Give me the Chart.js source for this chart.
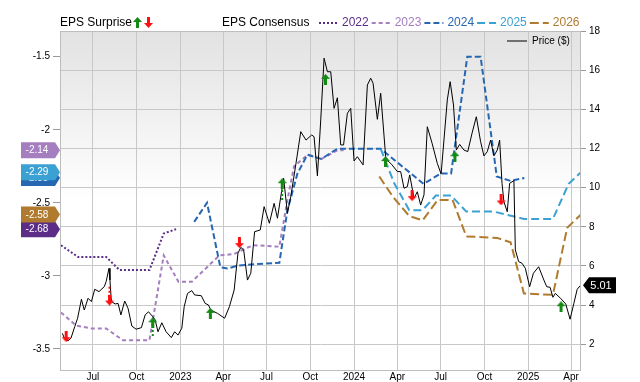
<!DOCTYPE html>
<html>
<head>
<meta charset="utf-8">
<script src="https://cdn.jsdelivr.net/npm/chart.js@4.4.0/dist/chart.umd.min.js"></script>
<style>
  html, body { margin: 0; padding: 0; background: #fff; }
  canvas { display: block; }
</style>
</head>
<body>
<canvas id="chart" width="640" height="382"></canvas>
<script>
// x range and quarter ticks
const xStart = '2022-04-23'
const xEnd = '2025-04-22'
const tickDates = ['2022-07-01', '2022-10-01', '2023-01-01', '2023-04-01', '2023-07-01', '2023-10-01',
  '2024-01-01', '2024-04-01', '2024-07-01', '2024-10-01', '2025-01-01', '2025-04-01']
const tickLabels = ['Jul', 'Oct', '2023', 'Apr', 'Jul', 'Oct', '2024', 'Apr', 'Jul', 'Oct', '2025', 'Apr']
const epsTicks = [-3.5, -3, -2.5, -2, -1.5]
const priceTicks = [2, 4, 6, 8, 10, 12, 14, 16, 18]

// weekly-ish price ($)
const priceDates = [
  '2022-04-28', '2022-05-03', '2022-05-10', '2022-05-16', '2022-05-24', '2022-05-30', '2022-06-07', '2022-06-13', '2022-06-21', '2022-06-28',
  '2022-07-05', '2022-07-14', '2022-07-25', '2022-07-29', '2022-08-04', '2022-08-06', '2022-08-09', '2022-08-17', '2022-08-23', '2022-08-29',
  '2022-09-06', '2022-09-13', '2022-09-21', '2022-09-30', '2022-10-11', '2022-10-19', '2022-10-26', '2022-11-04', '2022-11-09', '2022-11-15',
  '2022-11-23', '2022-12-02', '2022-12-13', '2022-12-20', '2022-12-27', '2023-01-04', '2023-01-09', '2023-01-16', '2023-01-25', '2023-01-31',
  '2023-02-14', '2023-02-22', '2023-03-01', '2023-03-06', '2023-03-20', '2023-04-04', '2023-04-14', '2023-04-24', '2023-05-02', '2023-05-08',
  '2023-05-14', '2023-05-22', '2023-05-29', '2023-06-06', '2023-06-18', '2023-06-26', '2023-07-07', '2023-07-17', '2023-07-24', '2023-08-06',
  '2023-08-14', '2023-08-21', '2023-09-01', '2023-09-11', '2023-09-22', '2023-10-04', '2023-10-09', '2023-10-16', '2023-10-23', '2023-10-30',
  '2023-11-06', '2023-11-13', '2023-11-20', '2023-11-27', '2023-12-04', '2023-12-10', '2023-12-18', '2023-12-25', '2024-01-01', '2024-01-08',
  '2024-01-20', '2024-01-29', '2024-02-05', '2024-02-10', '2024-02-19', '2024-02-26', '2024-03-08', '2024-03-14', '2024-03-21', '2024-04-01',
  '2024-04-08', '2024-04-15', '2024-04-22', '2024-04-27', '2024-05-06', '2024-05-13', '2024-05-20', '2024-05-27', '2024-06-03', '2024-06-13',
  '2024-06-24', '2024-07-02', '2024-07-15', '2024-07-21', '2024-07-28', '2024-08-03', '2024-08-10', '2024-08-19', '2024-08-27', '2024-09-05',
  '2024-09-14', '2024-09-23', '2024-09-30', '2024-10-07', '2024-10-14', '2024-10-21', '2024-10-28', '2024-11-02', '2024-11-07', '2024-11-11',
  '2024-11-18', '2024-11-23', '2024-12-02', '2024-12-05', '2024-12-12', '2024-12-19', '2024-12-26', '2025-01-04', '2025-01-12', '2025-01-23',
  '2025-02-03', '2025-02-09', '2025-02-16', '2025-02-22', '2025-02-27', '2025-03-10', '2025-03-21', '2025-03-30', '2025-04-07', '2025-04-14',
  '2025-04-21']
const priceValues = [
  2.56, 2.26, 2.18, 2.31, 2.90, 3.33, 4.30, 3.75, 4.35, 4.18,
  4.81, 4.69, 4.94, 5.20, 5.88, 5.28, 4.18, 4.06, 4.09, 3.50,
  4.21, 3.84, 2.93, 2.77, 2.85, 3.50, 3.66, 3.41, 3.24, 2.64,
  3.10, 2.64, 2.34, 2.64, 2.47, 2.82, 3.92, 4.60, 4.74, 4.52,
  4.48, 4.09, 4.01, 3.75, 3.58, 3.33, 3.92, 4.77, 6.65, 6.95,
  6.82, 5.28, 5.63, 7.75, 7.84, 9.03, 8.18, 9.20, 8.44, 10.48,
  8.69, 9.54, 11.24, 12.86, 12.43, 12.69, 12.60, 10.60, 13.46, 16.61,
  15.92, 15.92, 14.05, 14.59, 12.18, 12.18, 13.80, 14.05, 11.36, 11.58,
  11.16, 15.24, 15.59, 15.33, 13.49, 14.82, 11.41, 11.33, 11.16, 10.82,
  10.82, 9.97, 10.05, 10.65, 9.46, 9.79, 9.11, 9.63, 13.11, 12.27,
  11.24, 10.70, 14.48, 15.41, 14.22, 11.92, 12.21, 11.92, 11.84, 12.78,
  13.62, 12.35, 11.62, 11.84, 12.43, 11.62, 11.92, 12.43, 10.22, 9.28,
  8.77, 10.22, 10.36, 6.82, 6.22, 6.14, 5.88, 4.94, 5.63, 5.96,
  5.28, 4.94, 4.91, 4.40, 4.60, 4.35, 4.06, 3.28, 4.09, 4.81,
  5.01]

// EPS consensus per fiscal year
const eps2022Dates = ['2022-04-25', '2022-05-31', '2022-07-29', '2022-08-26', '2022-10-28', '2022-11-27', '2022-12-23']
const eps2022 = [-2.79, -2.87, -2.87, -2.96, -2.96, -2.71, -2.68]
const eps2023Dates = ['2022-04-25', '2022-05-27', '2022-06-28', '2022-07-29', '2022-09-02', '2022-10-28', '2022-11-27', '2022-12-28',
  '2023-01-25', '2023-03-24', '2023-04-24', '2023-05-19', '2023-06-05', '2023-07-28', '2023-08-14', '2023-08-28', '2023-09-26',
  '2023-10-24', '2023-11-27', '2023-12-10']
const eps2023 = [-3.25, -3.34, -3.36, -3.36, -3.44, -3.44, -2.86, -3.04, -3.04, -2.86, -2.85, -2.81, -2.79, -2.80, -2.48, -2.25,
  -2.17, -2.20, -2.14, -2.14]
const eps2024Dates = ['2023-01-30', '2023-02-26', '2023-03-26', '2023-04-10', '2023-05-01', '2023-06-05', '2023-07-28', '2023-08-14',
  '2023-09-04', '2023-09-25', '2023-10-24', '2023-11-27', '2024-02-26', '2024-05-26', '2024-07-01', '2024-07-23', '2024-08-26',
  '2024-09-23', '2024-10-27', '2024-11-25', '2024-12-24']
const eps2024 = [-2.63, -2.50, -2.94, -2.95, -2.93, -2.92, -2.91, -2.55, -2.30, -2.17, -2.20, -2.13, -2.13, -2.37, -2.30, -2.30,
  -1.50, -1.50, -2.32, -2.35, -2.33]
const eps2025Dates = ['2024-02-26', '2024-03-26', '2024-04-26', '2024-05-24', '2024-06-21', '2024-07-23', '2024-08-24', '2024-10-21',
  '2024-12-23', '2025-02-22', '2025-03-27', '2025-04-22']
const eps2025 = [-2.13, -2.37, -2.55, -2.55, -2.45, -2.45, -2.56, -2.56, -2.61, -2.61, -2.37, -2.29]
const eps2026Dates = ['2024-02-23', '2024-03-23', '2024-04-26', '2024-05-24', '2024-06-25', '2024-07-26', '2024-08-24', '2024-10-28',
  '2024-11-25', '2024-12-23', '2025-02-22', '2025-03-24', '2025-04-22']
const eps2026 = [-2.32, -2.46, -2.59, -2.62, -2.48, -2.48, -2.73, -2.74, -2.77, -3.12, -3.13, -2.67, -2.58]

// EPS surprise markers (placed on the price scale)
const surpriseDates = ['2022-05-06', '2022-08-05', '2022-11-04', '2023-03-05', '2023-05-05', '2023-08-03',
  '2023-11-02', '2024-03-07', '2024-05-02', '2024-07-31', '2024-11-05', '2025-03-11']
const surpriseLevels = [2.39, 4.26, 3.10, 3.58, 7.19, 10.2, 15.53, 11.33, 9.59, 11.58, 9.37, 3.92]
const surpriseBeat = [false, false, true, true, false, true, true, true, false, true, false, true]
// dashed stems on some of them
const stemDates = ['2022-08-05', '2022-11-04', '2023-08-03']
const stemFrom = [4.94, 2.93, 10.08]
const stemTo = [4.47, 2.37, 9.27]
const stemBeat = [false, true, true]

const FONT = '"Liberation Sans", Arial, sans-serif'
Chart.defaults.font.family = FONT

function day (s) {
  const p = s.split('-').map(Number)
  return Date.UTC(p[0], p[1] - 1, p[2]) / 864e5
}
function pts (dates, vals) {
  return dates.map((d, i) => ({x: day(d), y: vals[i]}))
}

const consensus = [
  {label: '2022', dates: eps2022Dates, values: eps2022, color: '#5c2d86', dash: [2, 2]},
  {label: '2023', dates: eps2023Dates, values: eps2023, color: '#a47ebf', dash: [4, 3]},
  {label: '2024', dates: eps2024Dates, values: eps2024, color: '#2767b2', dash: [6, 3]},
  {label: '2025', dates: eps2025Dates, values: eps2025, color: '#3ba1d3', dash: [8, 4]},
  {label: '2026', dates: eps2026Dates, values: eps2026, color: '#b07b2f', dash: [9, 4]}
]

function arrowImage (up, color) {
  const c = document.createElement('canvas')
  c.width = 9
  c.height = 11
  const g = c.getContext('2d')
  g.fillStyle = color
  g.beginPath()
  if (up) {
    g.moveTo(4.5, 0); g.lineTo(9, 5); g.lineTo(0, 5)
  } else {
    g.moveTo(4.5, 11); g.lineTo(9, 6); g.lineTo(0, 6)
  }
  g.closePath()
  g.fill()
  g.fillRect(3, up ? 5 : 0, 3, 6)
  return c
}
const GREEN = '#138a13'
const RED = '#ff1010'
const upImg = arrowImage(true, GREEN)
const downImg = arrowImage(false, RED)

let datasets = []
datasets.push({
  data: pts(surpriseDates, surpriseLevels),
  yAxisID: 'price',
  showLine: false,
  pointRadius: 4,
  pointStyle: ctx => surpriseBeat[ctx.dataIndex] ? upImg : downImg
})
stemDates.forEach(function (d, i) {
  datasets.push({
    data: [{x: day(d), y: stemFrom[i]}, {x: day(d), y: stemTo[i]}],
    yAxisID: 'price',
    borderColor: stemBeat[i] ? GREEN : RED,
    borderWidth: 2,
    borderDash: [2, 2],
    pointRadius: 0
  })
})
datasets.push({
  data: pts(priceDates, priceValues),
  yAxisID: 'price',
  borderColor: '#000',
  borderWidth: 1,
  pointRadius: 0
})
consensus.slice().reverse().forEach(function (s) {
  datasets.push({
    data: pts(s.dates, s.values),
    yAxisID: 'eps',
    borderColor: s.color,
    borderWidth: 2,
    borderDash: s.dash,
    pointRadius: 0
  })
})

function badge (ctx, y, text, color) {
  ctx.beginPath()
  ctx.moveTo(21, y - 8)
  ctx.lineTo(55, y - 8)
  ctx.lineTo(60, y)
  ctx.lineTo(55, y + 8)
  ctx.lineTo(21, y + 8)
  ctx.closePath()
  ctx.fillStyle = color
  ctx.fill()
  ctx.fillStyle = '#fff'
  ctx.font = '10px ' + FONT
  ctx.textAlign = 'center'
  ctx.textBaseline = 'middle'
  ctx.fillText(text, 37, y + 0.5)
}

const decor = {
  id: 'decor',
  beforeDraw (chart) {
    const ctx = chart.ctx
    const a = chart.chartArea
    const g = ctx.createLinearGradient(0, a.top, 0, a.bottom)
    g.addColorStop(0, '#e2e2e2')
    g.addColorStop(0.5, '#ffffff')
    g.addColorStop(1, '#ffffff')
    ctx.save()
    ctx.fillStyle = g
    ctx.fillRect(a.left, a.top, a.right - a.left, a.bottom - a.top)
    ctx.restore()
  },
  afterDraw (chart) {
    const ctx = chart.ctx
    const a = chart.chartArea
    ctx.save()
    // frame
    ctx.strokeStyle = '#bdbdbd'
    ctx.lineWidth = 1
    ctx.strokeRect(a.left + 0.5, a.top + 0.5, a.right - a.left - 1, a.bottom - a.top)

    // top legend
    const ly = 23
    ctx.textBaseline = 'middle'
    ctx.textAlign = 'left'
    ctx.font = '12px ' + FONT
    ctx.fillStyle = '#000'
    ctx.fillText('EPS Surprise', 60, ly)
    ctx.drawImage(upImg, 133, ly - 6)
    ctx.drawImage(downImg, 144, ly - 6)
    ctx.fillStyle = '#000'
    ctx.fillText('EPS Consensus', 222, ly)
    let x = 319
    consensus.forEach(function (s) {
      ctx.beginPath()
      ctx.setLineDash(s.dash)
      ctx.strokeStyle = s.color
      ctx.lineWidth = 2
      ctx.moveTo(x, ly)
      ctx.lineTo(x + 19, ly)
      ctx.stroke()
      ctx.setLineDash([])
      x += 23
      ctx.fillStyle = s.color
      ctx.fillText(s.label, x, ly)
      x += ctx.measureText(s.label).width + 3
    })

    // price legend inside plot
    ctx.beginPath()
    ctx.strokeStyle = '#707070'
    ctx.lineWidth = 2
    ctx.moveTo(507, 41)
    ctx.lineTo(527, 41)
    ctx.stroke()
    ctx.font = '10px ' + FONT
    ctx.fillStyle = '#000'
    ctx.fillText('Price ($)', 532, 41)

    // left value badges (last consensus of each year)
    const eps = chart.scales.eps
    consensus.forEach(function (s) {
      const v = s.values[s.values.length - 1]
      badge(ctx, eps.getPixelForValue(v), v.toFixed(2), s.color)
    })

    // last price badge
    const pv = priceValues[priceValues.length - 1]
    const py = chart.scales.price.getPixelForValue(pv)
    ctx.beginPath()
    ctx.moveTo(583, py)
    ctx.lineTo(589, py - 8)
    ctx.lineTo(616, py - 8)
    ctx.lineTo(616, py + 8)
    ctx.lineTo(589, py + 8)
    ctx.closePath()
    ctx.fillStyle = '#000'
    ctx.fill()
    ctx.fillStyle = '#fff'
    ctx.font = '11px ' + FONT
    ctx.textAlign = 'center'
    ctx.fillText(pv.toFixed(2), 601, py + 0.5)
    ctx.restore()
  }
}

const ctx = document.getElementById('chart').getContext('2d')
const myChart = new Chart(ctx, {
  type: 'line',
  data: {datasets: datasets},
  plugins: [decor],
  options: {
    responsive: false,
    animation: false,
    devicePixelRatio: 1,
    layout: {padding: {top: 31, left: 0, right: 0, bottom: 0}},
    plugins: {legend: {display: false}, tooltip: {enabled: false}},
    elements: {line: {tension: 0}},
    scales: {
      x: {
        type: 'linear',
        min: day(xStart),
        max: day(xEnd),
        afterBuildTicks: s => { s.ticks = tickDates.map(d => ({value: day(d)})) },
        afterFit: s => { s.height = 12 },
        ticks: {
          callback: (v, i) => tickLabels[i],
          color: '#000',
          font: {size: 10},
          padding: 1,
          maxRotation: 0,
          autoSkip: false
        },
        grid: {color: '#c8c8c8', drawTicks: false},
        border: {display: false}
      },
      eps: {
        position: 'left',
        min: -3.644,
        max: -1.324,
        afterBuildTicks: s => { s.ticks = epsTicks.map(v => ({value: v})) },
        afterFit: s => { s.width = 60 },
        ticks: {callback: v => String(v), color: '#000', font: {size: 10}, padding: 3},
        grid: {drawOnChartArea: false, tickLength: 7, tickColor: '#999'},
        border: {display: false}
      },
      price: {
        position: 'right',
        min: 0.687,
        max: 18,
        afterBuildTicks: s => { s.ticks = priceTicks.map(v => ({value: v})) },
        afterFit: s => { s.width = 59 },
        ticks: {callback: v => String(v), color: '#000', font: {size: 10}, padding: 3},
        grid: {color: '#c8c8c8', tickLength: 5, tickColor: '#999'},
        border: {display: false}
      }
    }
  }
})
</script>
</body>
</html>
